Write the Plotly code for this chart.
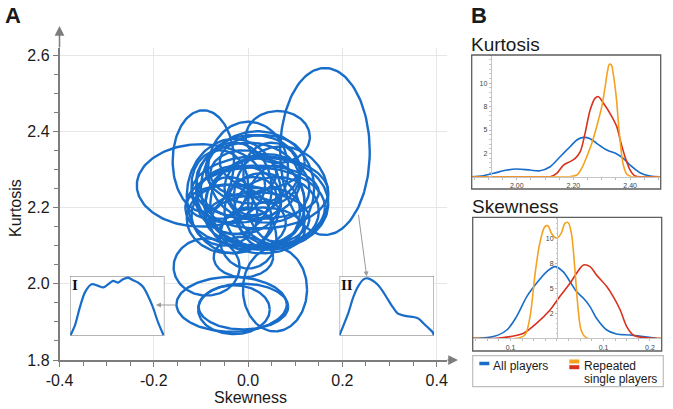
import numpy as np
import plotly.graph_objects as go

W, H = 673, 409

# ---------------- Panel A: one ellipse per player (centre + half-axes) ----------------
ell_cx = [0.163, -0.100, -0.095, 0.063, 0.000, 0.025, 0.015, -0.088, -0.035, -0.030,
          -0.010, 0.057, -0.010, 0.020, -0.020, 0.030, -0.030, 0.040, -0.050, 0.000,
          0.050, -0.040, 0.010, 0.060, -0.060, 0.000, 0.030, -0.010, 0.020, -0.030,
          0.050, 0.000, 0.030, 0.020, 0.060, 0.020, 0.040, -0.030, 0.010, 0.070,
          -0.040]
ell_cy = [2.347, 2.258, 2.322, 2.385, 2.300, 2.240, 2.200, 2.044, 1.946, 1.932,
          1.940, 1.985, 2.070, 2.210, 2.220, 2.190, 2.250, 2.250, 2.180, 2.160,
          2.170, 2.220, 2.230, 2.210, 2.260, 2.270, 2.140, 2.290, 2.240, 2.210,
          2.290, 2.120, 2.320, 2.170, 2.190, 2.250, 2.210, 2.230, 2.300, 2.230,
          2.170]
ell_rx = [0.095, 0.136, 0.065, 0.068, 0.085, 0.145, 0.148, 0.070, 0.117, 0.076,
          0.095, 0.068, 0.063, 0.100, 0.090, 0.080, 0.080, 0.090, 0.070, 0.080,
          0.070, 0.050, 0.050, 0.060, 0.060, 0.110, 0.090, 0.070, 0.130, 0.100,
          0.060, 0.060, 0.090, 0.110, 0.090, 0.120, 0.130, 0.100, 0.100, 0.100,
          0.090]
ell_ry = [0.219, 0.108, 0.133, 0.068, 0.125, 0.095, 0.105, 0.075, 0.072, 0.064,
          0.060, 0.110, 0.053, 0.120, 0.090, 0.100, 0.120, 0.090, 0.080, 0.070,
          0.080, 0.060, 0.050, 0.100, 0.090, 0.100, 0.060, 0.060, 0.070, 0.050,
          0.080, 0.080, 0.070, 0.070, 0.090, 0.150, 0.120, 0.150, 0.090, 0.130,
          0.090]

# inset distributions (normalised)
inset1_u = [0.007, 0.053, 0.105, 0.158, 0.228, 0.298, 0.351, 0.404, 0.456, 0.509,
            0.561, 0.614, 0.667, 0.719, 0.772, 0.825, 0.877, 0.930, 0.989]
inset1_v = [0.016, 0.180, 0.481, 0.727, 0.863, 0.836, 0.809, 0.863, 0.918, 0.891,
            0.945, 0.973, 0.929, 0.891, 0.820, 0.672, 0.481, 0.235, 0.016]
inset2_u = [0.0, 0.036, 0.091, 0.145, 0.200, 0.255, 0.298, 0.345, 0.400, 0.455, 0.509,
            0.564, 0.618, 0.673, 0.727, 0.782, 0.836, 0.873, 0.927, 0.982, 1.0]
inset2_v = [0.016, 0.153, 0.372, 0.645, 0.836, 0.945, 0.962, 0.929, 0.863, 0.754, 0.617,
            0.481, 0.372, 0.344, 0.328, 0.317, 0.290, 0.235, 0.153, 0.071, 0.016]
inset_box_u = [0, 1, 1, 0, 0]
inset_box_v = [0, 0, 1, 1, 0]

main_xtickvals = [-0.4, -0.2, 0.0, 0.2, 0.4]
main_xticktext = ["-0.4", "-0.2", "0.0", "0.2", "0.4"]
main_ytickvals = [1.8, 2.0, 2.2, 2.4, 2.6]
main_yticktext = ["1.8", "2.0", "2.2", "2.4", "2.6"]

# ---------------- Panel B: densities ----------------
kurt_all_x = [1.841, 1.882, 1.918, 1.965, 2.000, 2.047, 2.082, 2.118, 2.153, 2.188, 2.212,
              2.235, 2.259, 2.282, 2.318, 2.353, 2.376, 2.400, 2.435, 2.471, 2.506]
kurt_all_y = [0.0, 0.11, 0.36, 0.71, 0.82, 0.71, 0.64, 1.07, 2.14, 3.21, 3.93,
              4.21, 4.07, 3.57, 2.86, 2.43, 1.96, 1.25, 0.43, 0.07, 0.0]
kurt_red_x = [1.841, 2.100, 2.118, 2.141, 2.165, 2.188, 2.206, 2.224, 2.241, 2.259, 2.276,
              2.288, 2.306, 2.329, 2.353, 2.365, 2.382, 2.400, 2.418, 2.447, 2.506]
kurt_red_y = [0.0, 0.0, 0.0, 0.36, 1.25, 1.61, 1.96, 2.68, 4.64, 7.14, 8.39,
              8.57, 7.86, 6.79, 5.36, 3.93, 2.14, 0.71, 0.07, 0.0, 0.0]
kurt_orange_x = [1.841, 2.170, 2.188, 2.212, 2.229, 2.247, 2.265, 2.282, 2.300, 2.312, 2.320,
                 2.327, 2.334, 2.341, 2.351, 2.359, 2.367, 2.376, 2.388, 2.406, 2.506]
kurt_orange_y = [0.0, 0.0, 0.0, 0.18, 0.89, 2.14, 3.57, 5.36, 7.5, 9.64, 11.25,
                 12.04, 11.96, 10.89, 8.57, 5.71, 3.21, 1.25, 0.29, 0.0, 0.0]

skew_all_x = [-0.181, -0.173, -0.137, -0.108, -0.087, -0.065, -0.044, -0.022, -0.004, 0.013,
              0.028, 0.042, 0.057, 0.071, 0.085, 0.107, 0.128, 0.157, 0.186, 0.214]
skew_all_y = [0.0, 0.0, 0.17, 0.83, 2.17, 4.17, 5.5, 6.67, 7.17, 6.67,
              5.67, 4.67, 4.0, 3.17, 2.0, 0.83, 0.43, 0.33, 0.17, 0.0]
skew_red_x = [-0.181, -0.130, -0.101, -0.072, -0.044, -0.015, 0.006, 0.028, 0.042, 0.057,
              0.071, 0.085, 0.107, 0.121, 0.136, 0.150, 0.164, 0.186, 0.225]
skew_red_y = [0.0, 0.0, 0.17, 0.5, 1.5, 2.83, 4.17, 5.5, 6.5, 7.33,
              7.17, 6.33, 5.17, 4.17, 2.83, 1.17, 0.33, 0.07, 0.0]
skew_orange_x = [-0.181, -0.087, -0.069, -0.058, -0.047, -0.037, -0.026, -0.019, -0.012, -0.001,
                 0.009, 0.017, 0.024, 0.031, 0.038, 0.045, 0.052, 0.063, 0.225]
skew_orange_y = [0.0, 0.0, 0.33, 2.17, 6.5, 9.5, 11.17, 11.23, 10.5, 10.0,
                 10.5, 11.5, 11.57, 10.5, 7.17, 3.17, 0.83, 0.07, 0.0]

dens_ytickvals = [2.5, 5, 7.5, 10]
dens_yticktext = ["2", "5", "8", "10"]
kurt_xtickvals = [2.0, 2.2, 2.4]
kurt_xticktext = ["2.00", "2.20", "2.40"]
skew_xtickvals = [-0.1, 0.1, 0.2]
skew_xticktext = ["0.1", "0.1", "0.2"]

BLUE = "#176dc9"
ORANGE = "#f4a21f"
RED = "#d8321f"
AXIS = "#7d7d7d"
FONT = "Liberation Sans, Arial, sans-serif"


def fx(px):
    return px / W


def fy(py):
    return 1 - py / H


# build ellipse outlines
t = np.linspace(0, 2 * np.pi, 140)
ex, ey = [], []
for cx, cy, rx, ry in zip(ell_cx, ell_cy, ell_rx, ell_ry):
    ex += list(cx + rx * np.cos(t)) + [None]
    ey += list(cy + ry * np.sin(t)) + [None]

fig = go.Figure()
fig.add_trace(go.Scatter(x=ex, y=ey, mode="lines", line=dict(color=BLUE, width=2.4),
                         xaxis="x", yaxis="y", showlegend=False, hoverinfo="skip"))
for xa, ya, uu, vv in [("x2", "y2", inset1_u, inset1_v), ("x3", "y3", inset2_u, inset2_v)]:
    fig.add_trace(go.Scatter(x=inset_box_u, y=inset_box_v, mode="lines", fill="toself",
                             fillcolor="white", line=dict(color="#9c9c9c", width=1.3),
                             xaxis=xa, yaxis=ya, showlegend=False, hoverinfo="skip"))
    fig.add_trace(go.Scatter(x=uu, y=vv, mode="lines",
                             line=dict(color=BLUE, width=2.2, shape="spline", smoothing=0.8),
                             xaxis=xa, yaxis=ya, showlegend=False, cliponaxis=False))

for xs, ys, col in [(kurt_all_x, kurt_all_y, BLUE), (kurt_red_x, kurt_red_y, RED),
                    (kurt_orange_x, kurt_orange_y, ORANGE)]:
    fig.add_trace(go.Scatter(x=xs, y=ys, mode="lines",
                             line=dict(color=col, width=1.6, shape="spline", smoothing=0.9),
                             xaxis="x4", yaxis="y4", showlegend=False))
for xs, ys, col in [(skew_all_x, skew_all_y, BLUE), (skew_red_x, skew_red_y, RED),
                    (skew_orange_x, skew_orange_y, ORANGE)]:
    fig.add_trace(go.Scatter(x=xs, y=ys, mode="lines",
                             line=dict(color=col, width=1.6, shape="spline", smoothing=0.9),
                             xaxis="x5", yaxis="y5", showlegend=False))

xr_top = 0.4 + (447 - 436.7) / 471.5
yr_top = 2.6 + (55 - 48) / 381.25

layout = dict(
    width=W, height=H, autosize=False,
    margin=dict(l=0, r=0, t=0, b=0, pad=0, autoexpand=False),
    paper_bgcolor="white", plot_bgcolor="rgba(0,0,0,0)",
    font=dict(family=FONT, color="#1a1a1a"),
    showlegend=False,
    xaxis=dict(domain=[fx(59.5), fx(447)], range=[-0.4, xr_top], anchor="y", automargin=False,
               tickmode="array", tickvals=main_xtickvals, ticktext=main_xticktext,
               showgrid=True, gridcolor="#e6e6e6", gridwidth=1, zeroline=False,
               showline=True, linecolor=AXIS, linewidth=1.5,
               ticks="outside", ticklen=5, tickcolor=AXIS, tickwidth=1,
               minor=dict(tickmode="linear", tick0=-0.4, dtick=0.05, ticks="outside",
                          ticklen=4, tickcolor=AXIS, showgrid=False),
               tickfont=dict(size=16, color="#1a1a1a")),
    yaxis=dict(domain=[fy(360), fy(48)], range=[1.8, yr_top], anchor="x", automargin=False,
               tickmode="array", tickvals=main_ytickvals, ticktext=main_yticktext,
               showgrid=True, gridcolor="#e6e6e6", gridwidth=1, zeroline=False,
               showline=True, linecolor=AXIS, linewidth=1.5,
               ticks="outside", ticklen=5, tickcolor=AXIS, tickwidth=1,
               minor=dict(tickmode="linear", tick0=1.8, dtick=0.05, ticks="outside",
                          ticklen=4, tickcolor=AXIS, showgrid=False),
               tickfont=dict(size=16, color="#1a1a1a")),
    xaxis2=dict(domain=[fx(70), fx(164.5)], range=[0, 1], anchor="y2", visible=False, automargin=False),
    yaxis2=dict(domain=[fy(336), fy(276)], range=[0, 1], anchor="x2", visible=False, automargin=False),
    xaxis3=dict(domain=[fx(339.5), fx(434)], range=[0, 1], anchor="y3", visible=False, automargin=False),
    yaxis3=dict(domain=[fy(336), fy(276)], range=[0, 1], anchor="x3", visible=False, automargin=False),
    xaxis4=dict(domain=[fx(471.7), fx(660.7)], range=[1.841, 2.508], anchor="y4", automargin=False,
                tickmode="array", tickvals=kurt_xtickvals, ticktext=kurt_xticktext,
                showgrid=False, zeroline=False, showline=True, linecolor="#c4c4c4",
                ticks="outside", ticklen=2, tickcolor="#bbbbbb",
                minor=dict(tickmode="linear", tick0=2.0, dtick=0.05, ticks="outside",
                           ticklen=2, tickcolor="#bbbbbb"),
                tickfont=dict(size=7, color="#444444")),
    yaxis4=dict(domain=[fy(176.7), fy(55)], range=[0, (176.7 - 55) / 9.34], automargin=False,
                anchor="free", position=fx(490.7),
                tickmode="array", tickvals=dens_ytickvals, ticktext=dens_yticktext,
                showgrid=False, zeroline=False, showline=True, linecolor="#c4c4c4",
                ticks="outside", ticklen=2, tickcolor="#bbbbbb",
                minor=dict(tickmode="linear", tick0=0, dtick=0.5, ticks="outside",
                           ticklen=1.5, tickcolor="#c8c8c8"),
                tickfont=dict(size=7, color="#444444")),
    xaxis5=dict(domain=[fx(472.7), fx(661.7)], range=[-0.1813, 0.2252], anchor="y5", automargin=False,
                tickmode="array", tickvals=skew_xtickvals, ticktext=skew_xticktext,
                showgrid=False, zeroline=False, showline=True, linecolor="#c4c4c4",
                ticks="outside", ticklen=2, tickcolor="#bbbbbb",
                minor=dict(tickmode="linear", tick0=0, dtick=0.025, ticks="outside",
                           ticklen=2, tickcolor="#bbbbbb"),
                tickfont=dict(size=7, color="#444444")),
    yaxis5=dict(domain=[fy(338.3), fy(217.3)], range=[0, 12.1], automargin=False,
                anchor="free", position=fx(557),
                tickmode="array", tickvals=dens_ytickvals, ticktext=dens_yticktext,
                showgrid=False, zeroline=False, showline=True, linecolor="#c4c4c4",
                ticks="outside", ticklen=2, tickcolor="#bbbbbb",
                minor=dict(tickmode="linear", tick0=0, dtick=0.5, ticks="outside",
                           ticklen=1.5, tickcolor="#c8c8c8"),
                tickfont=dict(size=7, color="#444444")),
)
fig.update_layout(**layout)

shapes = []
# panel B frames
for (x0, y0, x1, y1) in [(471.7, 55, 660.7, 189), (472.7, 217.3, 661.7, 351)]:
    shapes.append(dict(type="rect", xref="paper", yref="paper",
                       x0=fx(x0), x1=fx(x1), y0=fy(y1), y1=fy(y0),
                       line=dict(color="#5e5e5e", width=1.3), layer="above"))
# legend box + swatches
shapes.append(dict(type="rect", xref="paper", yref="paper",
                   x0=fx(472.7), x1=fx(663.3), y0=fy(386.7), y1=fy(355.7),
                   line=dict(color="#bdbdbd", width=1.2)))
for (y, col, w) in [(363.5, BLUE, 3.5), (361.5, ORANGE, 4), (367.2, RED, 4)]:
    x0, x1 = (479.3, 489.3) if col == BLUE else (569.3, 579.3)
    shapes.append(dict(type="line", xref="paper", yref="paper",
                       x0=fx(x0), x1=fx(x1), y0=fy(y), y1=fy(y),
                       line=dict(color=col, width=w)))
fig.update_layout(shapes=shapes)

ann = []


def text(px, py, s, size, xanchor="left", family=FONT, angle=0, color="#1a1a1a"):
    ann.append(dict(xref="paper", yref="paper", x=fx(px), y=fy(py), text=s,
                    showarrow=False, xanchor=xanchor, yanchor="middle", textangle=angle,
                    font=dict(size=size, family=family, color=color), borderpad=0))


text(13, 15, "<b>A</b>", 22, xanchor="center")
text(478.5, 15, "<b>B</b>", 22, xanchor="center")
text(469.5, 44, "Kurtosis", 19)
text(470.5, 207, "Skewness", 19)
text(250, 397, "Skewness", 16, xanchor="center")
text(15, 208, "Kurtosis", 16, xanchor="center", angle=-90)
text(75, 284.5, "<b>I</b>", 15, xanchor="center", family="Liberation Serif, Times New Roman, serif", color="#111")
text(347.2, 284.5, "<b>II</b>", 15, xanchor="center", family="Liberation Serif, Times New Roman, serif", color="#111")
text(491.5, 365.5, "All players", 12)
text(582.5, 365.5, "Repeated", 12)
text(582.5, 379, "single players", 12)


def arrow(tipx, tipy, tailx, taily, color, width, size, head=2):
    ann.append(dict(xref="paper", yref="paper", x=fx(tipx), y=fy(tipy), text="",
                    showarrow=True, ax=tailx - tipx, ay=taily - tipy,
                    arrowhead=head, arrowsize=size, arrowwidth=width, arrowcolor=color,
                    standoff=0, startstandoff=0))


arrow(59.5, 26, 59.5, 49, AXIS, 1.5, 1.3)
arrow(458, 360, 446, 360, AXIS, 1.5, 1.3)
arrow(366.7, 276.5, 358.3, 213.3, "#9a9a9a", 1, 1.0)
arrow(156, 305, 177, 305, "#9a9a9a", 1, 1.0)

fig.update_layout(annotations=ann)
fig.write_html("out.html",
               config={"displayModeBar": False, "responsive": False},
               post_script="document.body.style.margin='0';document.body.style.padding='0';")
